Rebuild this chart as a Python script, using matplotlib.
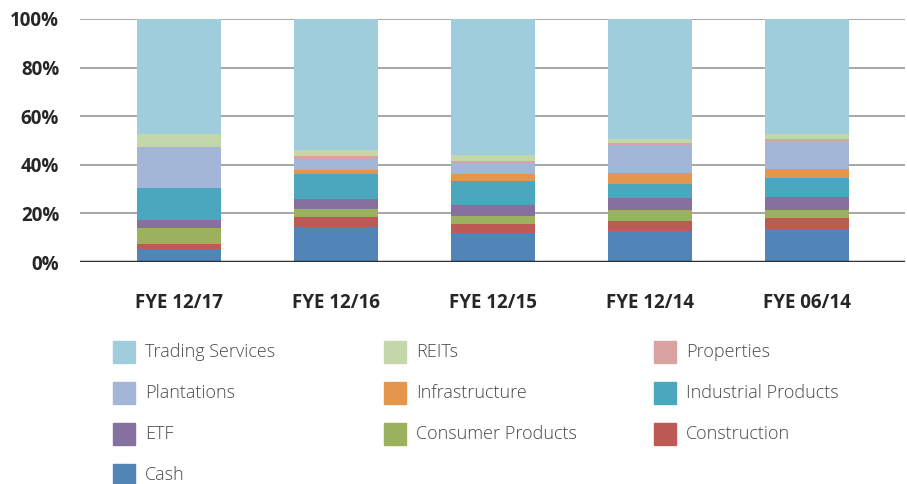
import matplotlib
matplotlib.use("Agg")
import matplotlib.pyplot as plt
from matplotlib.patches import Rectangle
import numpy as np

periods = ["FYE 12/17", "FYE 12/16", "FYE 12/15", "FYE 12/14", "FYE 06/14"]

# stacked from the bottom up, % of portfolio
cash = [5.3, 14.3, 11.9, 12.8, 13.6]
construction = [2.2, 4.4, 3.9, 4.2, 4.6]
consumer_products = [6.6, 3.2, 3.1, 4.5, 3.3]
etf = [3.3, 4.0, 4.6, 5.0, 5.4]
industrial_products = [13.1, 10.4, 9.8, 5.7, 7.8]
infrastructure = [0.0, 1.7, 3.0, 4.6, 3.7]
plantations = [17.0, 4.4, 4.3, 11.3, 11.1]
properties = [0.0, 1.3, 1.1, 1.0, 1.3]
reits = [5.3, 2.5, 2.5, 1.7, 2.0]
trading_services = [47.2, 53.8, 55.8, 49.2, 47.2]

series = [
    ("Cash", cash, "#5184b7"),
    ("Construction", construction, "#be5a55"),
    ("Consumer Products", consumer_products, "#9cb15e"),
    ("ETF", etf, "#8670a0"),
    ("Industrial Products", industrial_products, "#4ba7bd"),
    ("Infrastructure", infrastructure, "#e4964d"),
    ("Plantations", plantations, "#a3b6d8"),
    ("Properties", properties, "#d9a3a1"),
    ("REITs", reits, "#c4d7a9"),
    ("Trading Services", trading_services, "#9fcddc"),
]

legend_order = ["Trading Services", "REITs", "Properties",
                "Plantations", "Infrastructure", "Industrial Products",
                "ETF", "Consumer Products", "Construction",
                "Cash"]

W, H = 907, 484
fig = plt.figure(figsize=(W / 100, H / 100), dpi=100)
ax = fig.add_axes([80 / W, 1 - 262 / H, 825 / W, 243 / H])

x = np.arange(len(periods))
bottom = np.zeros(len(periods))
for name, vals, col in series:
    ax.bar(x, vals, bottom=bottom, width=0.535, color=col, zorder=3)
    bottom += np.array(vals)

ax.set_xlim(-0.63, 4.625)
ax.set_ylim(0, 100)
ax.set_yticks(range(0, 101, 20))
ax.set_yticklabels([f"{v}%" for v in range(0, 101, 20)])
for v in range(20, 101, 20):
    ax.axhline(v, color="#a6a6a6", lw=1.4, zorder=1)
ax.axhline(0, color="#303030", lw=2.5, zorder=4)

for s in ax.spines.values():
    s.set_visible(False)
ax.tick_params(length=0)
ax.tick_params(axis="y", pad=15)
ax.tick_params(axis="x", pad=22)
ax.set_xticks(x)
ax.set_xticklabels(periods)
for lab in ax.get_xticklabels() + ax.get_yticklabels():
    lab.set_fontfamily("Open Sans")
    lab.set_fontweight("bold")
    lab.set_fontsize(13.5)
    lab.set_color("#262626")

# legend, laid out by hand in three columns
colors = {name: col for name, _, col in series}
col_x = [113, 384, 654]
row_y = [352, 393, 434, 475]
for i, name in enumerate(legend_order):
    r, c = divmod(i, 3)
    x0, yc = col_x[c], row_y[r]
    fig.add_artist(Rectangle((x0 / W, 1 - (yc + 11) / H), 22 / W, 22 / H,
                             transform=fig.transFigure, color=colors[name]))
    fig.text((x0 + 32) / W, 1 - yc / H, name, ha="left", va="center",
             fontsize=13, color="#4a4a4a", family="Open Sans", fontweight="light")

fig.savefig("out.png", dpi=100)
